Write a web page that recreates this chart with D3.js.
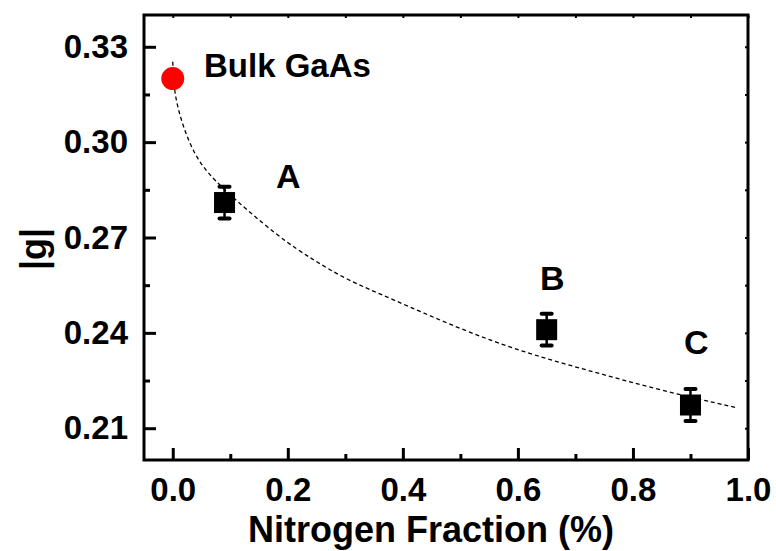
<!DOCTYPE html>
<html>
<head>
<meta charset="utf-8">
<script src="https://cdn.jsdelivr.net/npm/d3@7"></script>
<style>
  html, body { margin: 0; padding: 0; background: #fff; }
  svg text { font-family: "Liberation Sans", Arial, sans-serif; font-weight: bold; fill: #000; }
</style>
</head>
<body>
<svg id="chart" width="776" height="551"></svg>
<script>
// g-factor of the samples versus nitrogen fraction
const sampleNames = ["A", "B", "C"];
const sampleX = [0.09, 0.65, 0.90];
const sampleG = [0.281, 0.241, 0.2173];
const sampleErr = [0.005, 0.005, 0.005];

// bulk reference point
const bulkLabel = "Bulk GaAs";
const bulkX = [0.0];
const bulkG = [0.32];

// dashed guide curve
const fitX = [0.0, 0.002, 0.017, 0.041, 0.081, 0.186, 0.244, 0.302, 0.378, 0.50, 0.616, 0.732, 0.848, 0.979];
const fitG = [0.3253, 0.3156, 0.3051, 0.2945, 0.2861, 0.2698, 0.2630, 0.2567, 0.2509, 0.2411, 0.2335, 0.2277, 0.2219, 0.2165];

const xTicks = [0.0, 0.2, 0.4, 0.6, 0.8, 1.0];
const xMinor = [0.1, 0.3, 0.5, 0.7, 0.9];
const yTicks = [0.21, 0.24, 0.27, 0.30, 0.33];
const yMinor = [0.225, 0.255, 0.285, 0.315];

const xTitle = "Nitrogen Fraction (%)";
const yTitle = "|g|";

const svg = d3.select("#chart");
const L = 144, R = 748, T = 15, B = 460;

const x = d3.scaleLinear().domain([-0.05, 1.0]).range([L, R]);
const y = d3.scaleLinear().domain([0.20, 0.34]).range([B, T]);

// frame
svg.append("rect")
  .attr("x", L).attr("y", T).attr("width", R - L).attr("height", B - T)
  .attr("fill", "none").attr("stroke", "#000").attr("stroke-width", 3);

// bottom axis: inward ticks
const bottomAxis = svg.append("g").attr("transform", `translate(0,${B})`)
  .call(d3.axisBottom(x).tickValues(xTicks).tickSizeInner(-12).tickSizeOuter(0)
    .tickFormat(d3.format(".1f")).tickPadding(20));
bottomAxis.select(".domain").remove();
bottomAxis.selectAll(".tick line").attr("stroke-width", 3);
bottomAxis.selectAll(".tick text").attr("font-size", 33).attr("dy", "0.71em").attr("y", 18);
const bottomMinor = svg.append("g").attr("transform", `translate(0,${B})`)
  .call(d3.axisBottom(x).tickValues(xMinor).tickSizeInner(-6).tickSizeOuter(0).tickFormat(""));
bottomMinor.select(".domain").remove();
bottomMinor.selectAll(".tick line").attr("stroke-width", 3);

// left axis
const leftAxis = svg.append("g").attr("transform", `translate(${L},0)`)
  .call(d3.axisLeft(y).tickValues(yTicks).tickSizeInner(-12).tickSizeOuter(0)
    .tickFormat(d3.format(".2f")).tickPadding(16));
leftAxis.select(".domain").remove();
leftAxis.selectAll(".tick line").attr("stroke-width", 3);
leftAxis.selectAll(".tick text").attr("font-size", 33);
const leftMinor = svg.append("g").attr("transform", `translate(${L},0)`)
  .call(d3.axisLeft(y).tickValues(yMinor).tickSizeInner(-6).tickSizeOuter(0).tickFormat(""));
leftMinor.select(".domain").remove();
leftMinor.selectAll(".tick line").attr("stroke-width", 3);

// top and right axes: short inward ticks, no labels
const topAxis = svg.append("g").attr("transform", `translate(0,${T})`)
  .call(d3.axisTop(x).tickValues(xTicks.concat(xMinor)).tickSizeInner(-3).tickSizeOuter(0).tickFormat(""));
topAxis.select(".domain").remove();
topAxis.selectAll(".tick line").attr("stroke-width", 2);
const rightAxis = svg.append("g").attr("transform", `translate(${R},0)`)
  .call(d3.axisRight(y).tickValues(yTicks.concat(yMinor)).tickSizeInner(-3).tickSizeOuter(0).tickFormat(""));
rightAxis.select(".domain").remove();
rightAxis.selectAll(".tick line").attr("stroke-width", 2);

// axis titles
svg.append("text").attr("x", (L + R) / 2 - 15).attr("y", 542)
  .attr("text-anchor", "middle").attr("font-size", 36).text(xTitle);
svg.append("text").attr("transform", "translate(46,249) rotate(-90)")
  .attr("text-anchor", "middle").attr("font-size", 36).text(yTitle);

// dashed guide curve
const line = d3.line().x((d, i) => x(fitX[i])).y((d, i) => y(fitG[i])).curve(d3.curveBasis);
svg.append("path").datum(fitX).attr("d", line)
  .attr("fill", "none").attr("stroke", "#000").attr("stroke-width", 1.3)
  .attr("stroke-dasharray", "4,3");

// error bars
const eb = svg.append("g");
sampleX.forEach((sx, i) => {
  const cx = x(sx);
  const y1 = y(sampleG[i] + sampleErr[i]);
  const y2 = y(sampleG[i] - sampleErr[i]);
  eb.append("line").attr("x1", cx).attr("x2", cx).attr("y1", y1).attr("y2", y2)
    .attr("stroke", "#000").attr("stroke-width", 2.5);
  [y1, y2].forEach(yy => {
    eb.append("line").attr("x1", cx - 5).attr("x2", cx + 5).attr("y1", yy).attr("y2", yy)
      .attr("stroke", "#000").attr("stroke-width", 4).attr("stroke-linecap", "round");
  });
});

// square markers
const sq = 21;
svg.append("g").selectAll("rect").data(sampleX).join("rect")
  .attr("x", (d) => x(d) - sq / 2)
  .attr("y", (d, i) => y(sampleG[i]) - sq / 2)
  .attr("width", sq).attr("height", sq).attr("fill", "#000");

// bulk point
svg.append("g").selectAll("circle").data(bulkX).join("circle")
  .attr("cx", d => x(d)).attr("cy", (d, i) => y(bulkG[i])).attr("r", 11.5)
  .attr("fill", "#ff0000");

// annotations
svg.append("text").attr("x", 204).attr("y", 77).attr("font-size", 33).text(bulkLabel);
const labelPos = [[276, 188], [540, 290], [684, 354]];
sampleNames.forEach((n, i) => {
  svg.append("text").attr("x", labelPos[i][0]).attr("y", labelPos[i][1])
    .attr("font-size", 34).text(n);
});
</script>
</body>
</html>
